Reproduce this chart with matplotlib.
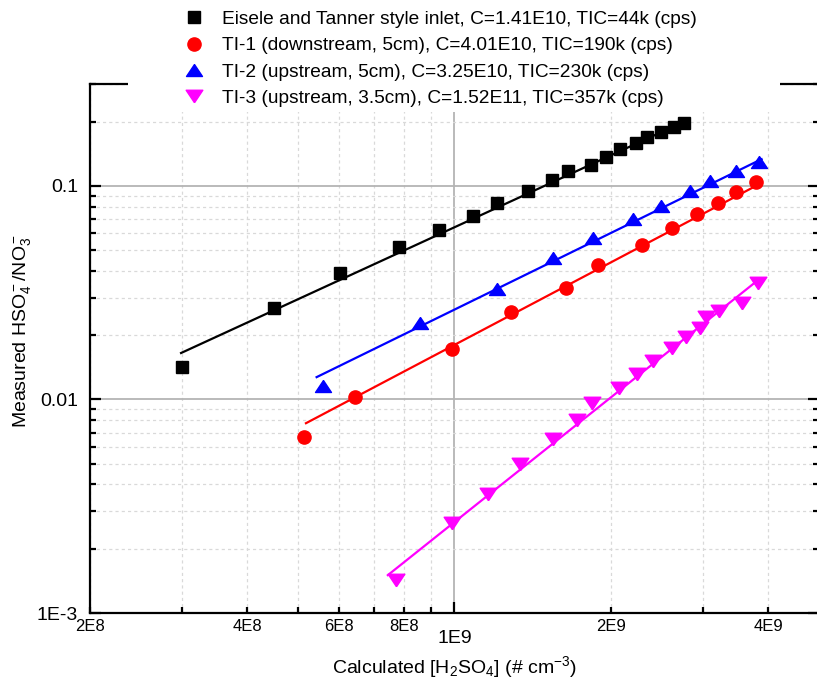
import matplotlib
matplotlib.use('Agg')
import matplotlib.pyplot as plt
from matplotlib.patches import Rectangle
from matplotlib.ticker import FixedLocator, FixedFormatter, NullFormatter


plt.rcParams['font.family'] = 'Liberation Sans'
plt.rcParams['mathtext.fontset'] = 'custom'
plt.rcParams['mathtext.rm'] = 'Liberation Sans'
plt.rcParams['mathtext.it'] = 'Liberation Sans:italic'
plt.rcParams['mathtext.bf'] = 'Liberation Sans:bold'

# Eisele and Tanner style inlet
et_x = [3.00e8, 4.50e8, 6.03e8, 7.82e8, 9.32e8, 1.083e9, 1.204e9, 1.381e9,
        1.535e9, 1.654e9, 1.831e9, 1.956e9, 2.073e9, 2.224e9, 2.344e9,
        2.494e9, 2.640e9, 2.760e9]
et_y = [0.0142, 0.0268, 0.0390, 0.0517, 0.0620, 0.0722, 0.0830, 0.0944,
        0.1063, 0.1172, 0.1250, 0.1362, 0.1485, 0.1585, 0.1690, 0.1784,
        0.1883, 0.1966]
et_fit_x = [2.99e8, 2.77e9]
et_fit_y = [0.0165, 0.201]

# TI-1 (downstream, 5cm)
ti1_x = [5.14e8, 6.44e8, 9.87e8, 1.286e9, 1.633e9, 1.888e9, 2.284e9,
         2.617e9, 2.923e9, 3.207e9, 3.472e9, 3.792e9]
ti1_y = [0.00666, 0.01025, 0.0172, 0.0256, 0.0332, 0.0425, 0.0528, 0.0634,
         0.0737, 0.0830, 0.0934, 0.1040]
ti1_fit_x = [5.19e8, 3.84e9]
ti1_fit_y = [0.00774, 0.1019]

# TI-2 (upstream, 5cm)
ti2_x = [5.59e8, 8.58e8, 1.204e9, 1.542e9, 1.847e9, 2.195e9, 2.494e9,
         2.835e9, 3.096e9, 3.472e9, 3.842e9]
ti2_y = [0.01154, 0.0228, 0.0328, 0.0459, 0.0569, 0.0698, 0.0804, 0.0944,
         0.1052, 0.1172, 0.1291]
ti2_fit_x = [5.44e8, 3.88e9]
ti2_fit_y = [0.01272, 0.1334]

# TI-3 (upstream, 3.5cm)
ti3_x = [7.71e8, 9.87e8, 1.157e9, 1.333e9, 1.542e9, 1.714e9, 1.839e9,
         2.063e9, 2.234e9, 2.407e9, 2.617e9, 2.785e9, 2.962e9, 3.041e9,
         3.221e9, 3.564e9, 3.825e9]
ti3_y = [0.001425, 0.00264, 0.00360, 0.00498, 0.00652, 0.00800, 0.00961,
         0.0113, 0.01314, 0.01511, 0.01738, 0.01957, 0.02157, 0.02428,
         0.02591, 0.02824, 0.03503]
ti3_fit_x = [7.45e8, 3.84e9]
ti3_fit_y = [0.001504, 0.03658]

labels = [
    'Eisele and Tanner style inlet, C=1.41E10, TIC=44k (cps)',
    'TI-1 (downstream, 5cm), C=4.01E10, TIC=190k (cps)',
    'TI-2 (upstream, 5cm), C=3.25E10, TIC=230k (cps)',
    'TI-3 (upstream, 3.5cm), C=1.52E11, TIC=357k (cps)',
]

x_major = [1e9]
x_major_labels = ['1E9']
x_minor = [2e8, 3e8, 4e8, 5e8, 6e8, 7e8, 8e8, 9e8, 2e9, 3e9, 4e9, 5e9]
x_minor_labels = ['2E8', '', '4E8', '', '6E8', '', '8E8', '', '2E9', '',
                  '4E9', '']
y_major = [1e-3, 1e-2, 1e-1]
y_major_labels = ['1E-3', '0.01', '0.1']
y_minor = [m * d for d in (1e-3, 1e-2, 1e-1) for m in range(2, 10)]

up_tri = [(0, 0.75), (-1, -0.75), (1, -0.75), (0, 0.75)]
down_tri = [(0, -0.75), (-1, 0.75), (1, 0.75), (0, -0.75)]

fig = plt.figure(figsize=(8.17, 6.81), dpi=100)
ax = fig.add_axes([90 / 817, 68 / 681, 729 / 817, 529 / 681])

ax.set_xscale('log')
ax.set_yscale('log')
ax.set_xlim(2e8, 5e9)
ax.set_ylim(1e-3, 0.3)

h1, = ax.plot(et_x, et_y, ls='none', marker='s', ms=8.5, color='black',
              zorder=4)
ax.plot(et_fit_x, et_fit_y, color='black', lw=1.6, zorder=3)
h2, = ax.plot(ti1_x, ti1_y, ls='none', marker='o', ms=9.5, color='#ff0000',
              zorder=4)
ax.plot(ti1_fit_x, ti1_fit_y, color='#ff0000', lw=1.6, zorder=3)
h3, = ax.plot(ti2_x, ti2_y, ls='none', marker=up_tri, ms=11.5,
              color='#0000ff', zorder=4)
ax.plot(ti2_fit_x, ti2_fit_y, color='#0000ff', lw=1.6, zorder=3)
h4, = ax.plot(ti3_x, ti3_y, ls='none', marker=down_tri, ms=12,
              color='#ff00ff', zorder=4)
ax.plot(ti3_fit_x, ti3_fit_y, color='#ff00ff', lw=1.6, zorder=3)

ax.xaxis.set_major_locator(FixedLocator(x_major))
ax.xaxis.set_major_formatter(FixedFormatter(x_major_labels))
ax.xaxis.set_minor_locator(FixedLocator(x_minor))
ax.xaxis.set_minor_formatter(FixedFormatter(x_minor_labels))
ax.yaxis.set_major_locator(FixedLocator(y_major))
ax.yaxis.set_major_formatter(FixedFormatter(y_major_labels))
ax.yaxis.set_minor_locator(FixedLocator(y_minor))
ax.yaxis.set_minor_formatter(NullFormatter())

ax.grid(which='major', color='#b4b4b4', lw=1.3, ls='-')
ax.grid(which='minor', color='#d9d9d9', lw=0.9, ls=(0, (2.5, 2.5)))
ax.set_axisbelow(True)

for s in ax.spines.values():
    s.set_linewidth(1.6)
ax.tick_params(which='both', direction='in', width=1.6, right=True,
               top=False)
ax.tick_params(which='major', length=8)
ax.tick_params(which='minor', length=4.5)
ax.tick_params(axis='x', which='major', labelsize=14, pad=12)
ax.tick_params(axis='x', which='minor', labelsize=12, pad=4.5)
ax.tick_params(axis='y', which='major', labelsize=14, pad=8.5)

ax.set_xlabel('Calculated [H$_2$SO$_4$] (# cm$^{-3}$)', fontsize=14,
              labelpad=5)
ax.set_ylabel('Measured HSO$_4^-$/NO$_3^-$', fontsize=14)
ax.yaxis.set_label_coords(-0.078, 0.533)

# white legend area hiding the top frame
ax.add_patch(Rectangle((38 / 729, 501 / 529), 652 / 729, 0.2,
                       transform=ax.transAxes, facecolor='white',
                       edgecolor='none', clip_on=False, zorder=4.5))

leg = ax.legend([h1, h2, h3, h4], labels, loc='upper left',
                bbox_to_anchor=(184.5 / 817, 1 - 10.5 / 681),
                bbox_transform=fig.transFigure, frameon=False,
                borderaxespad=0, borderpad=0, handlelength=1.0,
                handletextpad=0.95, labelspacing=0.47, fontsize=13.8)
leg.set_zorder(6)

fig.savefig('out.png', dpi=100)
